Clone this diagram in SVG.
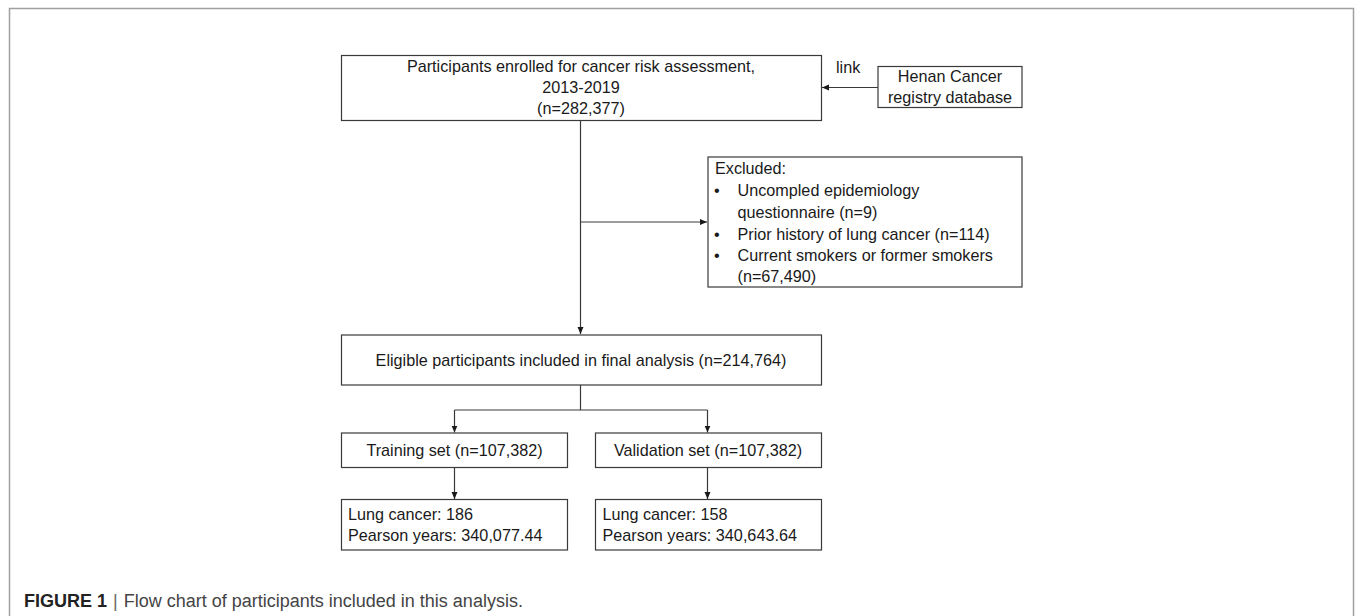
<svg xmlns="http://www.w3.org/2000/svg" width="1355" height="616" viewBox="0 0 1355 616">
<style>
.box{fill:#fff;stroke:#3a3a3a;stroke-width:1.2}
.t{font-family:"Liberation Sans",Arial,sans-serif;font-size:16.2px;fill:#1a1a1a}
.c{text-anchor:middle}
.ln{fill:none;stroke:#3a3a3a;stroke-width:1.2}
.cap{font-family:"Liberation Sans",Arial,sans-serif;font-size:18px;fill:#333}
</style>
<defs>
<marker id="ah" markerWidth="8" markerHeight="8" refX="7" refY="4" orient="auto" markerUnits="userSpaceOnUse">
<path d="M0,1 L7,4 L0,7 Z" fill="#1a1a1a"/>
</marker>
</defs>
<rect x="9.5" y="8.5" width="1344" height="620" fill="none" stroke="#a0a0a0" stroke-width="1.5"/>
<g id="connectors">
<path class="ln" d="M878,87.5 H822" marker-end="url(#ah)"/>
<path class="ln" d="M580.5,120 V334" marker-end="url(#ah)"/>
<path class="ln" d="M580.5,222 H707" marker-end="url(#ah)"/>
<path class="ln" d="M580.5,385 V410"/>
<path class="ln" d="M454.5,410 H707.5"/>
<path class="ln" d="M454.5,410 V432.5" marker-end="url(#ah)"/>
<path class="ln" d="M707.5,410 V432.5" marker-end="url(#ah)"/>
<path class="ln" d="M454.5,467.5 V499" marker-end="url(#ah)"/>
<path class="ln" d="M707.5,467.5 V499" marker-end="url(#ah)"/>
</g>
<g id="n-enrolled">
<rect class="box" x="341.5" y="55.5" width="480" height="65"/>
<text class="t c" x="581" y="71.5">Participants enrolled for cancer risk assessment,</text>
<text class="t c" x="581" y="93">2013-2019</text>
<text class="t c" x="581" y="113.5">(n=282,377)</text>
</g>
<g id="n-link">
<text class="t" x="836" y="73">link</text>
</g>
<g id="n-henan">
<rect class="box" x="878" y="66.5" width="144" height="41"/>
<text class="t c" x="950" y="81.5">Henan Cancer</text>
<text class="t c" x="950" y="102.5">registry database</text>
</g>
<g id="n-excluded">
<rect class="box" x="708" y="157" width="314" height="130"/>
<text class="t" x="715" y="174">Excluded:</text>
<text class="t" x="714" y="196">•</text>
<text class="t" x="737.5" y="196">Uncompled epidemiology</text>
<text class="t" x="737.5" y="218">questionnaire (n=9)</text>
<text class="t" x="714" y="239.5">•</text>
<text class="t" x="737.5" y="239.5">Prior history of lung cancer (n=114)</text>
<text class="t" x="714" y="261">•</text>
<text class="t" x="737.5" y="261">Current smokers or former smokers</text>
<text class="t" x="737.5" y="281.5">(n=67,490)</text>
</g>
<g id="n-eligible">
<rect class="box" x="341.5" y="335" width="480" height="50"/>
<text class="t c" x="581" y="366">Eligible participants included in final analysis (n=214,764)</text>
</g>
<g id="n-training">
<rect class="box" x="341.5" y="433" width="226" height="34.5"/>
<text class="t c" x="454.5" y="455.5">Training set (n=107,382)</text>
</g>
<g id="n-validation">
<rect class="box" x="595.5" y="433" width="226" height="34.5"/>
<text class="t c" x="708" y="455.5">Validation set (n=107,382)</text>
</g>
<g id="n-train-result">
<rect class="box" x="341.5" y="499.5" width="226" height="50.5"/>
<text class="t" x="348" y="520">Lung cancer: 186</text>
<text class="t" x="348" y="541">Pearson years: 340,077.44</text>
</g>
<g id="n-valid-result">
<rect class="box" x="595.5" y="499.5" width="226" height="50.5"/>
<text class="t" x="602.5" y="520">Lung cancer: 158</text>
<text class="t" x="602.5" y="541">Pearson years: 340,643.64</text>
</g>
<g id="caption">
<text class="cap" x="24" y="607"><tspan font-weight="bold" fill="#222">FIGURE 1</tspan><tspan fill="#666" dx="6">|</tspan><tspan dx="6" fill="#444">Flow chart of participants included in this analysis.</tspan></text>
</g>
</svg>
